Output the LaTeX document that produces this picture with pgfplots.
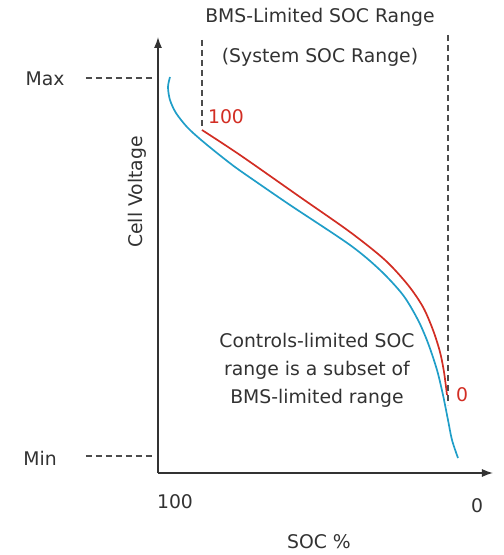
\documentclass[border=0pt]{standalone}
\usepackage{pgfplots}
\pgfplotsset{compat=1.18}
\usepackage{fontspec}
\setmainfont{DejaVu Sans}
\usetikzlibrary{arrows.meta}
\definecolor{cblue}{RGB}{32,158,200}
\definecolor{cred}{RGB}{210,45,35}
\definecolor{ctext}{RGB}{50,50,50}
\begin{document}
\begin{tikzpicture}[font=\fontsize{18.8}{22}\selectfont, lbl/.style={text=ctext, inner sep=0pt}]
\begin{axis}[
  scale only axis, width=335pt, height=436pt,
  xmin=158, xmax=493, ymin=82, ymax=518,
  axis lines=left,
  axis line style={-{Latex[length=11pt,width=8pt]}, line width=1.4pt, color=black!80},
  xtick=\empty, ytick=\empty,
  clip=false,
]
\path (axis cs:0,0) rectangle (axis cs:504,555);
% blue curve
\addplot[cblue, line width=1.7pt, smooth, tension=0.5] coordinates {
(170,478) (168,468) (170,455) (176,442) (187,428) (200,416) (217,402) (235,388)
(255,374) (290,350) (350,310) (380,285) (403,260) (418,235) (428,212) (437,185)
(443,160) (448,135) (452,115) (458,97)};
% red curve
\addplot[cred, line width=1.7pt, smooth, tension=0.5] coordinates {
(202,425) (240,400) (300,358) (350,323) (385,295) (408,270) (423,248) (433,225)
(440,203) (444,183) (447,160)};
% dashed guides
\draw[dash pattern=on 6pt off 4pt, line width=1.3pt, black!70] (axis cs:86,477) -- (axis cs:153,477);
\draw[dash pattern=on 6pt off 4pt, line width=1.3pt, black!70] (axis cs:86,99) -- (axis cs:153,99);
\draw[dash pattern=on 6pt off 4pt, line width=1.3pt, black!70] (axis cs:202,515) -- (axis cs:202,425);
\draw[dash pattern=on 6pt off 4pt, line width=1.3pt, black!70] (axis cs:448,520) -- (axis cs:448,150);
% labels
\node[lbl] at (axis cs:320,538) {BMS-Limited SOC Range};
\node[lbl] at (axis cs:320,498) {(System SOC Range)};
\node[lbl, text=cred] at (axis cs:226,438) {100};
\node[lbl, text=cred] at (axis cs:462,160) {0};
\node[lbl] at (axis cs:45,476) {Max};
\node[lbl] at (axis cs:40,97) {Min};
\node[lbl] at (axis cs:175,53) {100};
\node[lbl] at (axis cs:477,49) {0};
\node[lbl] at (axis cs:319,13) {SOC \%};
\node[lbl, rotate=90] at (axis cs:137,363) {Cell Voltage};
\node[lbl, align=center, font=\fontsize{18.8}{28}\selectfont] at (axis cs:317,185) {Controls-limited SOC\\range is a subset of\\BMS-limited range};
\end{axis}
\end{tikzpicture}
\end{document}
